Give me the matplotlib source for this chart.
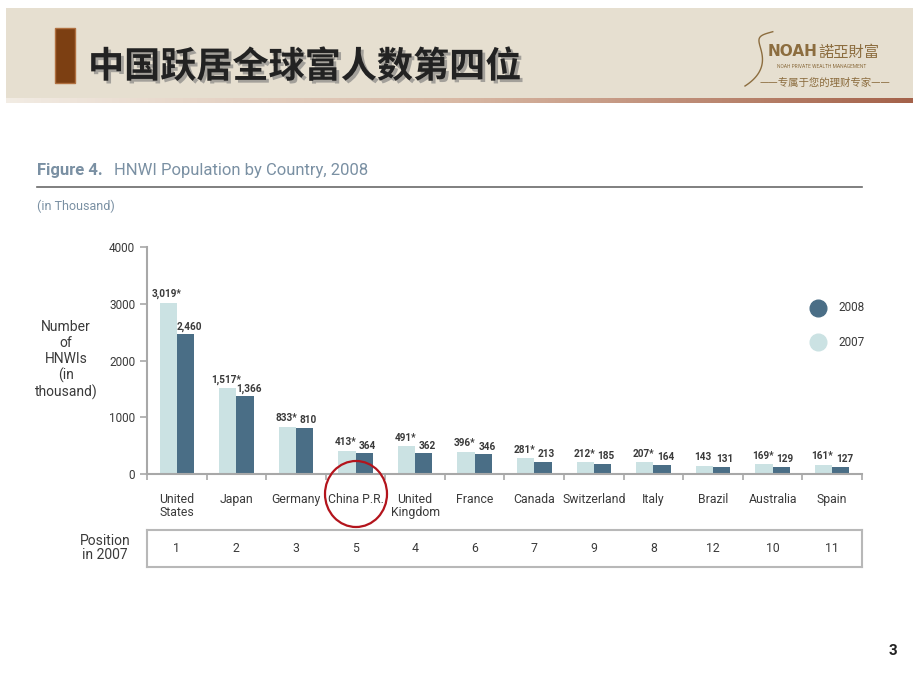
import numpy as np
import matplotlib.pyplot as plt
from matplotlib.patches import Rectangle, Ellipse
from matplotlib.lines import Line2D
from matplotlib.colors import LinearSegmentedColormap
import matplotlib.patheffects as pe

countries = ['United\nStates', 'Japan', 'Germany', 'China P.R.', 'United\nKingdom', 'France',
             'Canada', 'Switzerland', 'Italy', 'Brazil', 'Australia', 'Spain']
hnwi_2007 = [3019, 1517, 833, 413, 491, 396, 281, 212, 207, 143, 169, 161]
hnwi_2008 = [2460, 1366, 810, 364, 362, 346, 213, 185, 164, 131, 129, 127]
revised_2007 = [True, True, True, True, True, True, True, True, True, False, True, True]
position_2007 = [1, 2, 3, 5, 4, 6, 7, 9, 8, 12, 10, 11]
y_ticks = [0, 1000, 2000, 3000, 4000]

W, H = 920, 690
LIGHT = '#cbe2e3'
DARK = '#4a6e86'
GREY = '#a8a8a8'
TXT = '#3a3a3a'
BLUEGREY = '#7a90a3'


def fx(px):
    return px / W


def fy(py):
    return 1 - py / H


plt.rcParams['font.family'] = ['Roboto', 'DejaVu Sans']
fig = plt.figure(figsize=(9.2, 6.9), dpi=100)
fig.patch.set_facecolor('white')

# header band
fig.add_artist(Rectangle((fx(6), fy(100)), fx(907), 92 / H, transform=fig.transFigure,
                         facecolor='#e6dfd0', edgecolor='none', zorder=0))
grad_ax = fig.add_axes([fx(6), fy(103), fx(907), 5 / H])
grad = np.linspace(0, 1, 256).reshape(1, -1)
cmap = LinearSegmentedColormap.from_list('hdr', ['#f2ece4', '#d8b8a4', '#a4624a'])
grad_ax.imshow(grad, aspect='auto', cmap=cmap)
grad_ax.axis('off')

fig.add_artist(Rectangle((fx(55), fy(83)), fx(20), 55 / H, transform=fig.transFigure,
                         facecolor='#7c3f12', edgecolor='#b07040', lw=1, zorder=2))
fig.text(fx(88), fy(67), '中国跃居全球富人数第四位', fontsize=26, fontweight='heavy',
         color='#222222', va='center', ha='left',
         family=['Noto Sans CJK SC', 'DejaVu Sans'],
         path_effects=[pe.withSimplePatchShadow(offset=(2, -2), shadow_rgbFace='#777777', alpha=0.6)])

# logo
gold = '#8c6d3f'
fig.text(fx(818), fy(52), 'NOAH', fontsize=11, fontweight='bold', color=gold, ha='right', va='center',
         family=['DejaVu Sans Condensed', 'DejaVu Sans'])
fig.text(fx(818), fy(52), '諾亞財富', fontsize=11, color=gold, ha='left', va='center',
         family=['Noto Sans CJK TC', 'DejaVu Sans'])
fig.text(fx(822), fy(66), 'NOAH PRIVATE WEALTH MANAGEMENT', fontsize=3.5, color=gold, ha='center', va='center')
fig.text(fx(825), fy(83), '——专属于您的理财专家——', fontsize=7.5, color=gold, ha='center', va='center',
         family=['Noto Sans CJK SC', 'DejaVu Sans'])
t = np.linspace(0, 1, 50)
fig.add_artist(Line2D(fx(745 + 30 * t + 8 * np.sin(t * 6)), fy(80 - 50 * t + 6 * np.cos(t * 5)),
                      transform=fig.transFigure, color=gold, lw=1))

# figure title
fig.text(fx(37), fy(171), 'Figure 4.', fontsize=12, fontweight='bold', color=BLUEGREY, va='center')
fig.text(fx(114), fy(171), 'HNWI Population by Country, 2008', fontsize=12, color=BLUEGREY, va='center')
fig.add_artist(Line2D([fx(37), fx(862)], [fy(187), fy(187)], transform=fig.transFigure,
                      color='#6a6a6a', lw=1.2))
fig.text(fx(37), fy(206), '(in Thousand)', fontsize=9, color=BLUEGREY, va='center')

# main chart
ax = fig.add_axes([fx(147), fy(474), fx(862 - 147), (474 - 247) / H])
x = np.arange(len(countries))
bw = 0.29
ax.bar(x - bw / 2, hnwi_2007, bw, color=LIGHT, zorder=2)
ax.bar(x + bw / 2, hnwi_2008, bw, color=DARK, zorder=2)
for i in range(len(countries)):
    lab7 = f'{hnwi_2007[i]:,}' + ('*' if revised_2007[i] else '')
    ax.text(x[i] - bw / 2 - 0.02, hnwi_2007[i] + 60, lab7, ha='center', va='bottom', fontsize=7.2,
            fontweight='bold', color=TXT)
    ax.text(x[i] + bw / 2 + 0.06, hnwi_2008[i] + 50, f'{hnwi_2008[i]:,}', ha='center', va='bottom',
            fontsize=7.2, fontweight='bold', color=TXT)

ax.set_xlim(-0.5, len(countries) - 0.5)
ax.set_ylim(0, 4000)
ax.set_yticks(y_ticks)
ax.tick_params(axis='y', direction='out', length=5, width=1.2, color=GREY, labelsize=8.5, labelcolor=TXT)
ax.set_xticks(x)
ax.set_xticklabels(countries, fontsize=8.8, color=TXT, linespacing=1.0)
ax.tick_params(axis='x', length=0, pad=14)
ax.set_xticks(np.arange(-0.5, len(countries)), minor=True)
ax.tick_params(axis='x', which='minor', direction='out', length=4, width=1.2, color=GREY)
for s in ['top', 'right']:
    ax.spines[s].set_visible(False)
for s in ['left', 'bottom']:
    ax.spines[s].set_color(GREY)
    ax.spines[s].set_linewidth(1.5)
ax.set_facecolor('none')

fig.text(fx(66), fy(360), 'Number\nof\nHNWIs\n(in\nthousand)', fontsize=10, color=TXT,
         ha='center', va='center', linespacing=1.15)

# legend
fig.add_artist(Line2D([fx(818)], [fy(308)], marker='o', markersize=12, color=DARK,
                      transform=fig.transFigure, lw=0))
fig.add_artist(Line2D([fx(818)], [fy(342)], marker='o', markersize=12, color=LIGHT,
                      transform=fig.transFigure, lw=0))
fig.text(fx(838), fy(308), '2008', fontsize=8.5, color=TXT, va='center')
fig.text(fx(838), fy(342), '2007', fontsize=8.5, color=TXT, va='center')

# position row
pax = fig.add_axes([fx(147), fy(567), fx(862 - 147), 37 / H])
pax.set_xlim(-0.5, len(countries) - 0.5)
pax.set_ylim(0, 1)
pax.set_xticks([])
pax.set_yticks([])
for s in pax.spines.values():
    s.set_color('#b8b8b8')
    s.set_linewidth(1.5)
for i, p in enumerate(position_2007):
    pax.text(x[i], 0.5, str(p), ha='center', va='center', fontsize=8.8, color=TXT)
fig.text(fx(105), fy(548), 'Position\nin 2007', fontsize=10, color=TXT, ha='center', va='center',
         linespacing=1.0)

# highlight circle
fig.add_artist(Ellipse((fx(356), fy(494)), 62 / W, 66 / H, transform=fig.transFigure,
                       fill=False, edgecolor='#b3141c', lw=1.6, zorder=10))

fig.text(fx(893), fy(651), '3', fontsize=11, fontweight='bold', color='#222222', ha='center', va='center')

fig.savefig('out.png', dpi=100)
